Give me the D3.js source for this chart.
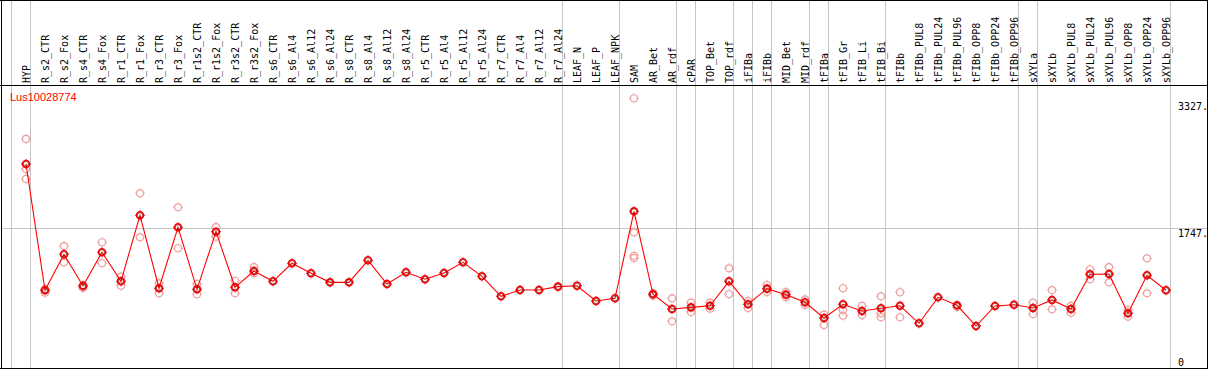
<!DOCTYPE html>
<html>
<head>
<meta charset="utf-8">
<script src="https://cdn.jsdelivr.net/npm/d3@7"></script>
<style>
  body { margin: 0; background: #fff; }
  svg { display: block; }
</style>
</head>
<body>
<div id="chart"></div>
<script>
// sample names (x axis)
let samples = ["HYP", "R_s2_CTR", "R_s2_Fox", "R_s4_CTR", "R_s4_Fox", "R_r1_CTR", "R_r1_Fox",
    "R_r3_CTR", "R_r3_Fox", "R_r1s2_CTR", "R_r1s2_Fox", "R_r3s2_CTR", "R_r3s2_Fox",
    "R_s6_CTR", "R_s6_Al4", "R_s6_Al12", "R_s6_Al24", "R_s8_CTR", "R_s8_Al4", "R_s8_Al12", "R_s8_Al24",
    "R_r5_CTR", "R_r5_Al4", "R_r5_Al12", "R_r5_Al24", "R_r7_CTR", "R_r7_Al4", "R_r7_Al12", "R_r7_Al24",
    "LEAF_N", "LEAF_P", "LEAF_NPK", "SAM", "AR_Bet", "AR_rdf", "cPAR", "TOP_Bet", "TOP_rdf",
    "iFIBa", "iFIBb", "MID_Bet", "MID_rdf", "tFIBa", "tFIB_Gr", "tFIB_Li", "tFIB_Bi", "tFIBb",
    "tFIBb_PUL8", "tFIBb_PUL24", "tFIBb_PUL96", "tFIBb_OPP8", "tFIBb_OPP24", "tFIBb_OPP96",
    "sXYLa", "sXYLb", "sXYLb_PUL8", "sXYLb_PUL24", "sXYLb_PUL96", "sXYLb_OPP8", "sXYLb_OPP24", "sXYLb_OPP96"];

// mean expression per sample
let means = [2546, 970, 1419, 1023, 1444, 1082, 1906, 995, 1756, 982, 1701, 1007, 1210,
    1082, 1307, 1182, 1069, 1069, 1344, 1048, 1194, 1107, 1186, 1319, 1144, 895, 973, 973, 1015,
    1027, 836, 870, 1955, 920, 736, 757, 777, 1082, 795, 990, 915, 820, 624, 795, 711, 745, 777,
    558, 882, 782, 524, 774, 790, 749, 849, 736, 1169, 1173, 683, 1157, 970];

// replicate values per sample
let replicates = [
    [2858, 2483, 2359], [940, 985], [1522, 1319], [998, 1036], [1569, 1307], [1139, 1027],
    [2180, 1631], [1057, 932], [2005, 1494], [1048, 920], [1759, 1638], [1089, 932], [1260, 1182],
    [], [], [], [], [], [], [], [], [], [], [], [], [], [], [], [],
    [], [], [],
    [3366, 1693, 1401, 1373], [936, 902], [870, 583], [815, 699], [815, 740], [1244, 920],
    [836, 749], [1036, 948], [948, 882], [857, 786], [665, 537], [995, 724, 653], [774, 661],
    [895, 683, 633], [945, 633],
    [], [], [760], [], [], [],
    [815, 674], [973, 732], [774, 690], [1232, 1107], [1260, 1069], [724, 640], [1369, 932], []
];

// last sample of each group (a grey line follows it)
let groupEnds = ["HYP", "R_r7_Al24", "LEAF_NPK", "AR_rdf", "cPAR", "TOP_rdf", "iFIBa", "iFIBb",
    "MID_rdf", "tFIBa", "tFIB_Bi", "tFIBb_OPP96", "sXYLa", "sXYLb_OPP96"];

let axisTicks = [0, 1747, 3327];
let geneName = "Lus10028774";

let width = 1209, height = 370;
let plotTop = 85, plotBottom = 368;

let svg = d3.select("#chart")
    .append("svg")
    .attr("width", width)
    .attr("height", height);

svg.append("rect").attr("width", width).attr("height", height).attr("fill", "#fff");

let x = d3.scalePoint()
    .domain(samples)
    .range([26, 26 + 19 * (samples.length - 1)]);

let y = d3.scaleLinear()
    .domain([0, 1747])
    .range([plotBottom, 228]);

// grey grid lines
svg.append("line")
    .attr("x1", 1).attr("x2", 1207)
    .attr("y1", Math.round(y(1747)) + 0.5).attr("y2", Math.round(y(1747)) + 0.5)
    .attr("stroke", "#c4c4c4");

let groupX = [x(samples[0]) - 19 + 4].concat(groupEnds.map(d => x(d) + 4));
svg.append("g")
    .selectAll("line")
    .data(groupX)
    .enter()
    .append("line")
    .attr("x1", d => Math.round(d) + 0.5)
    .attr("x2", d => Math.round(d) + 0.5)
    .attr("y1", 0)
    .attr("y2", plotBottom)
    .attr("stroke", "#c4c4c4");

// frame
svg.append("line").attr("x1", 0).attr("x2", 1208).attr("y1", 0.5).attr("y2", 0.5).attr("stroke", "#000");
svg.append("line").attr("x1", 0).attr("x2", 1208).attr("y1", plotTop + 0.5).attr("y2", plotTop + 0.5).attr("stroke", "#000");
svg.append("line").attr("x1", 0).attr("x2", 1208).attr("y1", plotBottom + 0.5).attr("y2", plotBottom + 0.5).attr("stroke", "#000");
svg.append("line").attr("x1", 1.5).attr("x2", 1.5).attr("y1", 0).attr("y2", plotBottom + 1).attr("stroke", "#000");
svg.append("line").attr("x1", 1207.5).attr("x2", 1207.5).attr("y1", 0).attr("y2", plotBottom + 1).attr("stroke", "#000");

// rotated sample labels
svg.append("g")
    .selectAll("text")
    .data(samples)
    .enter()
    .append("text")
    .attr("transform", d => "translate(" + (x(d) + 3.6) + "," + (plotTop - 2) + ") rotate(-90)")
    .attr("font-family", "DejaVu Sans Mono")
    .attr("font-size", "10px")
    .attr("fill", "#000")
    .text(d => d);

// right axis labels
svg.append("g")
    .selectAll("text")
    .data(axisTicks)
    .enter()
    .append("text")
    .attr("x", 1178)
    .attr("y", d => Math.min(y(d) + 9, 366))
    .attr("font-family", "DejaVu Sans Mono")
    .attr("font-size", "10px")
    .attr("fill", "#000")
    .text(d => d === 0 ? "0" : d + ".");

// gene name
svg.append("text")
    .attr("x", 10)
    .attr("y", 101)
    .attr("font-family", "Liberation Sans")
    .attr("font-size", "11px")
    .attr("fill", "#ff0000")
    .text(geneName);

// replicate points
let repPoints = [];
replicates.forEach(function (reps, i) {
    reps.forEach(function (v) { repPoints.push({s: samples[i], v: v}); });
});

function marker(g, color, width) {
    g.append("circle").attr("r", 3.5).attr("fill", "none").attr("stroke", color).attr("stroke-width", width);
    [[0, -5, 0, -4], [0, 4, 0, 5], [-5, 0, -4, 0], [4, 0, 5, 0]].forEach(function (t) {
        g.append("line").attr("x1", t[0]).attr("y1", t[1]).attr("x2", t[2]).attr("y2", t[3])
            .attr("stroke", color).attr("stroke-width", 1);
    });
}

svg.append("g")
    .selectAll("g")
    .data(repPoints)
    .enter()
    .append("g")
    .attr("transform", d => "translate(" + x(d.s) + "," + y(d.v) + ")")
    .each(function () { marker(d3.select(this), "#eea0a0", 1.2); });

// mean line
let line = d3.line()
    .x((d, i) => x(samples[i]))
    .y(d => y(d));

svg.append("path")
    .datum(means)
    .attr("d", line)
    .attr("fill", "none")
    .attr("stroke", "#ff0000")
    .attr("stroke-width", 1.1);

svg.append("g")
    .selectAll("g")
    .data(means)
    .enter()
    .append("g")
    .attr("transform", (d, i) => "translate(" + x(samples[i]) + "," + y(d) + ")")
    .each(function () {
        let g = d3.select(this);
        marker(g, "#ff0000", 1.6);
        g.append("circle").attr("r", 2.6).attr("fill", "none").attr("stroke", "#600").attr("stroke-width", 0.6);
    });
</script>
</body>
</html>
